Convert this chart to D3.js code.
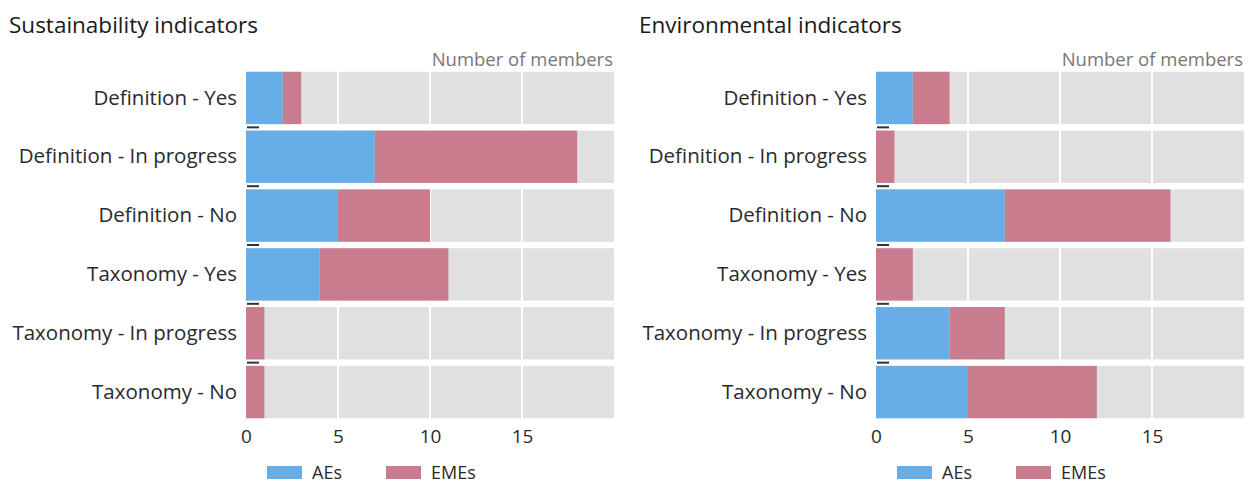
<!DOCTYPE html>
<html>
<head>
<meta charset="utf-8">
<script src="https://cdn.jsdelivr.net/npm/d3@7/dist/d3.min.js"></script>
<style>
  html, body { margin: 0; padding: 0; background: #fff; }
  svg { display: block; font-family: "Open Sans", "Noto Sans", sans-serif; }
</style>
</head>
<body>
<svg id="chart" width="1252" height="485"></svg>
<script>
// ---- data ----
const categories = ["Definition - Yes", "Definition - In progress", "Definition - No",
                    "Taxonomy - Yes", "Taxonomy - In progress", "Taxonomy - No"];
const seriesNames = ["AEs", "EMEs"];
const panelTitles = ["Sustainability indicators", "Environmental indicators"];
const unitLabel = "Number of members";
const sustainabilityAEs  = [2, 7, 5, 4, 0, 0];
const sustainabilityEMEs = [1, 11, 5, 7, 1, 1];
const environmentalAEs   = [2, 0, 7, 0, 4, 5];
const environmentalEMEs  = [2, 1, 9, 2, 3, 7];
const xTicks = [0, 5, 10, 15];
const xMax = 20;

const colors = { AEs: "#68aee6", EMEs: "#c97c8d" };

const svg = d3.select("#chart");

function drawPanel(offsetX, title, aes, emes) {
  const g = svg.append("g").attr("transform", `translate(${offsetX},0)`);
  const x = d3.scaleLinear().domain([0, xMax]).range([246, 614]);
  const y = d3.scaleBand().domain(categories).range([70, 420]).paddingInner(0.11).paddingOuter(0.03);

  // title
  g.append("text").attr("x", 9).attr("y", 33)
    .attr("font-size", 22.5).attr("fill", "#1a1a1a").text(title);
  g.append("text").attr("x", 613).attr("y", 66).attr("text-anchor", "end")
    .attr("font-size", 18.5).attr("fill", "#777").text(unitLabel);

  // band backgrounds
  g.selectAll("rect.bg").data(categories).join("rect")
    .attr("class", "bg")
    .attr("x", x(0)).attr("width", x(xMax) - x(0))
    .attr("y", d => y(d)).attr("height", y.bandwidth())
    .attr("fill", "#e0e0e0");

  // vertical white grid lines
  g.selectAll("line.grid").data(xTicks.filter(t => t > 0)).join("line")
    .attr("class", "grid")
    .attr("x1", d => x(d)).attr("x2", d => x(d))
    .attr("y1", y.range()[0]).attr("y2", y.range()[1])
    .attr("stroke", "#fff").attr("stroke-width", 2);

  // stacked bars
  const rows = categories.map((c, i) => ({ cat: c, AEs: aes[i], EMEs: emes[i] }));
  const stack = d3.stack().keys(seriesNames)(rows);
  g.selectAll("g.series").data(stack).join("g")
    .attr("class", "series")
    .attr("fill", s => colors[s.key])
    .selectAll("rect").data(s => s).join("rect")
    .attr("x", d => x(d[0]))
    .attr("width", d => x(d[1]) - x(d[0]))
    .attr("y", d => y(d.data.cat))
    .attr("height", y.bandwidth());

  // small dark dashes at band boundaries
  const bounds = categories.slice(1).map(c => y(c) - y.step() * y.paddingInner() / 2);
  g.selectAll("line.dash").data(bounds).join("line")
    .attr("class", "dash")
    .attr("x1", x(0) + 1).attr("x2", x(0) + 13)
    .attr("y1", d => d).attr("y2", d => d)
    .attr("stroke", "#333").attr("stroke-width", 2);

  // y axis labels
  const yAxis = d3.axisLeft(y).tickSize(0).tickPadding(9);
  const ya = g.append("g").attr("transform", `translate(${x(0)},0)`).call(yAxis);
  ya.select(".domain").remove();
  ya.selectAll("text").attr("font-size", 20.5).attr("fill", "#2a2a2a")
    .attr("font-family", "'Open Sans', sans-serif");

  // x axis
  const xAxis = d3.axisBottom(x).tickValues(xTicks).tickSize(0).tickPadding(10);
  const xa = g.append("g").attr("transform", `translate(0,${y.range()[1]})`).call(xAxis);
  xa.select(".domain").remove();
  xa.selectAll("text").attr("font-size", 19).attr("fill", "#2a2a2a")
    .attr("font-family", "'Open Sans', sans-serif");

  // legend
  const legendItems = [{ key: "AEs", x: 267 }, { key: "EMEs", x: 386 }];
  const lg = g.selectAll("g.leg").data(legendItems).join("g")
    .attr("class", "leg")
    .attr("transform", d => `translate(${d.x},466)`);
  lg.append("rect").attr("width", 35).attr("height", 13).attr("fill", d => colors[d.key]);
  lg.append("text").attr("x", 45).attr("y", 12.5).attr("font-size", 18)
    .attr("fill", "#2a2a2a").text(d => d.key);
}

drawPanel(0, panelTitles[0], sustainabilityAEs, sustainabilityEMEs);
drawPanel(630, panelTitles[1], environmentalAEs, environmentalEMEs);
</script>
</body>
</html>
